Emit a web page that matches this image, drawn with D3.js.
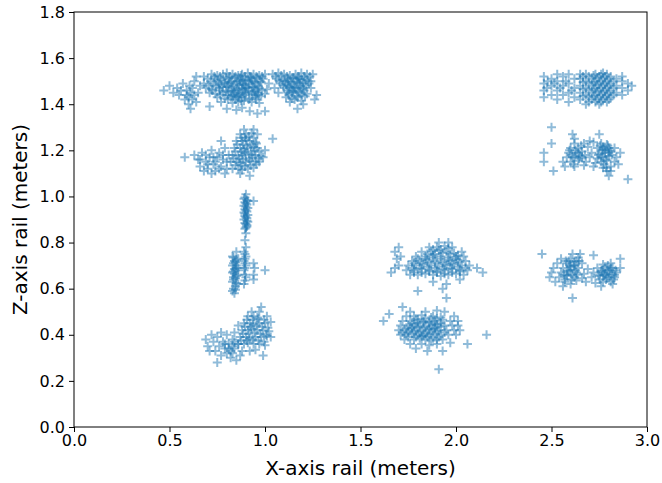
<!DOCTYPE html>
<html lang="en">
<head>
    <meta charset="UTF-8">
    <title>Rail positions</title>
    <script src="https://d3js.org/d3.v7.min.js"></script>
    <style>
        body { margin: 0; background: #fff; }
        text { font-family: "DejaVu Sans", sans-serif; fill: #000; }
        .tick text { font-size: 16px; }
        .axis path, .axis line { stroke: #000; }
        .mark { fill: none; stroke: #1f77b4; stroke-opacity: 0.5; stroke-width: 2; }
    </style>
</head>
<body>
    <svg width="662" height="483"></svg>
    <script>
        // points, one array per group (x, z in meters)
        var topLeft = [
            [0.47,1.46],[0.50,1.48],[0.52,1.45],[0.54,1.47],[0.55,1.44],[0.57,1.49],[0.58,1.42],[0.59,1.46],[0.61,1.38],
            [0.60,1.43],[0.62,1.47],[0.63,1.44],[0.64,1.41],[0.65,1.45],[0.63,1.50],[0.66,1.48],[0.60,1.40],[0.56,1.46],
            [0.61,1.45],[0.62,1.42],[0.605,1.48],[0.59,1.44],
            [0.72,1.53],[0.75,1.525],[0.78,1.53],[0.80,1.535],[0.83,1.53],[0.86,1.525],[0.88,1.53],[0.91,1.535],[0.94,1.53],
            [0.97,1.525],[1.00,1.53],[1.04,1.53],[1.07,1.535],[1.10,1.53],[1.13,1.525],[1.16,1.53],[1.19,1.535],[1.22,1.53],[1.25,1.53],
            [0.735,1.52],[0.765,1.52],[0.795,1.515],[0.815,1.52],[0.845,1.52],[0.875,1.525],[0.895,1.52],[0.925,1.515],[0.955,1.52],
            [0.985,1.52],[1.055,1.52],[1.085,1.525],[1.115,1.52],[1.145,1.515],[1.175,1.52],[1.205,1.52],[1.235,1.52],
            [0.70,1.51],[0.74,1.51],[0.77,1.505],[0.81,1.51],[0.84,1.515],[0.87,1.51],[0.90,1.505],[0.93,1.51],[0.96,1.515],
            [0.99,1.51],[1.06,1.51],[1.09,1.505],[1.12,1.51],[1.15,1.515],[1.18,1.51],[1.21,1.51],
            [0.715,1.50],[0.755,1.50],[0.785,1.495],[0.825,1.50],[0.855,1.50],[0.885,1.505],[0.915,1.50],[0.945,1.495],[0.975,1.50],
            [1.075,1.50],[1.105,1.50],[1.135,1.495],[1.165,1.50],[1.195,1.505],[1.225,1.50],
            [0.68,1.49],[0.73,1.49],[0.76,1.485],[0.79,1.49],[0.82,1.495],[0.85,1.49],[0.89,1.485],[0.92,1.49],[0.95,1.49],
            [0.98,1.495],[1.02,1.49],[1.08,1.49],[1.11,1.485],[1.14,1.49],[1.17,1.495],[1.20,1.49],[1.23,1.49],
            [0.705,1.48],[0.745,1.48],[0.775,1.475],[0.805,1.48],[0.835,1.48],[0.865,1.485],[0.895,1.48],[0.935,1.475],[0.965,1.48],
            [1.095,1.48],[1.125,1.48],[1.155,1.475],[1.185,1.48],[1.215,1.48],
            [0.69,1.47],[0.72,1.465],[0.76,1.47],[0.80,1.475],[0.83,1.47],[0.86,1.465],[0.88,1.47],[0.91,1.47],[0.94,1.475],
            [0.97,1.47],[1.01,1.465],[1.05,1.47],[1.10,1.47],[1.13,1.475],[1.16,1.47],[1.19,1.465],[1.24,1.47],
            [0.725,1.46],[0.765,1.46],[0.795,1.455],[0.825,1.46],[0.855,1.46],[0.885,1.465],[0.915,1.46],[0.945,1.455],[0.985,1.46],
            [1.115,1.46],[1.145,1.46],[1.175,1.455],[1.205,1.46],
            [0.71,1.45],[0.74,1.445],[0.78,1.45],[0.81,1.455],[0.84,1.45],[0.87,1.445],[0.90,1.45],[0.93,1.455],[0.96,1.45],
            [1.00,1.445],[1.07,1.45],[1.12,1.45],[1.15,1.455],[1.18,1.45],[1.22,1.445],
            [0.765,1.44],[0.805,1.44],[0.835,1.435],[0.865,1.44],[0.895,1.44],[0.935,1.445],[0.965,1.44],[1.125,1.44],[1.165,1.435],[1.195,1.44],
            [0.75,1.43],[0.79,1.425],[0.82,1.43],[0.85,1.435],[0.88,1.43],[0.92,1.425],[0.95,1.43],[0.98,1.435],
            [1.11,1.43],[1.14,1.425],[1.17,1.43],[1.21,1.435],
            [0.805,1.42],[0.845,1.42],[0.875,1.415],[0.915,1.42],[0.955,1.42],[1.155,1.42],
            [0.81,1.49],[0.84,1.46],[0.87,1.50],[0.90,1.47],[0.93,1.50],[0.96,1.465],[0.83,1.44],[0.89,1.45],[0.95,1.44],
            [0.86,1.43],[0.92,1.52],[0.88,1.49],[1.12,1.50],[1.15,1.47],[1.18,1.49],[1.14,1.45],[1.17,1.51],[1.20,1.47],
            [0.77,1.41],[0.83,1.405],[0.86,1.41],[0.89,1.415],[0.93,1.41],[0.97,1.405],[1.13,1.41],[1.19,1.415],
            [0.71,1.39],[0.80,1.38],[0.85,1.375],[0.88,1.385],[0.92,1.37],[0.96,1.36],[1.00,1.37],[1.17,1.38],
            [1.20,1.40],[1.26,1.42],[1.27,1.44],[1.24,1.50],[0.68,1.52],[0.64,1.52]
        ];

        var upperLeft = [
            [0.58,1.17],[0.63,1.18],[0.65,1.16],[0.66,1.13],[0.67,1.19],[0.69,1.15],[0.70,1.12],[0.71,1.17],[0.72,1.20],
            [0.73,1.14],[0.74,1.11],[0.75,1.17],[0.76,1.19],[0.77,1.13],[0.78,1.16],[0.79,1.21],[0.80,1.12],[0.68,1.11],
            [0.72,1.10],[0.77,1.24],[0.81,1.18],[0.79,1.10],
            [0.70,1.14],[0.74,1.15],[0.76,1.12],[0.78,1.18],[0.73,1.17],[0.80,1.15],[0.66,1.16],[0.69,1.18],
            [0.83,1.12],[0.86,1.12],[0.88,1.115],[0.91,1.12],[0.94,1.125],
            [0.845,1.135],[0.875,1.135],[0.895,1.13],[0.925,1.135],[0.955,1.14],
            [0.82,1.15],[0.85,1.15],[0.87,1.145],[0.90,1.15],[0.92,1.155],[0.95,1.15],[0.97,1.15],
            [0.835,1.165],[0.865,1.165],[0.885,1.16],[0.915,1.165],[0.935,1.17],[0.965,1.165],
            [0.83,1.18],[0.86,1.175],[0.88,1.18],[0.90,1.185],[0.93,1.18],[0.95,1.18],[0.98,1.175],
            [0.845,1.195],[0.875,1.195],[0.895,1.19],[0.925,1.195],[0.945,1.20],[0.97,1.195],
            [0.84,1.21],[0.87,1.21],[0.89,1.205],[0.91,1.21],[0.94,1.215],[0.96,1.21],
            [0.855,1.225],[0.885,1.225],[0.905,1.22],[0.93,1.225],[0.955,1.23],
            [0.85,1.24],[0.88,1.24],[0.90,1.245],[0.92,1.24],[0.95,1.235],
            [0.875,1.255],[0.895,1.255],[0.915,1.26],[0.94,1.255],
            [0.87,1.27],[0.90,1.27],[0.93,1.275],[0.96,1.27],[0.89,1.29],[0.94,1.29],
            [0.99,1.17],[1.00,1.20],[1.04,1.25],[0.92,1.09],[0.87,1.10]
        ];

        var middleStrip = [
            [0.90,1.01],[0.89,0.99],[0.91,0.98],[0.90,0.97],[0.89,0.96],[0.91,0.95],[0.90,0.94],[0.89,0.93],[0.91,0.92],
            [0.90,0.91],[0.89,0.90],[0.91,0.89],[0.90,0.88],[0.895,0.86],[0.905,0.87],[0.90,0.955],[0.895,0.925],
            [0.905,0.905],[0.895,0.995],[0.905,0.985],[0.895,0.975],[0.905,0.965],[0.895,0.945],[0.905,0.935],
            [0.895,0.915],[0.905,0.895],[0.895,0.885],[0.905,0.875],[0.90,0.865],
            [0.94,0.98],[0.90,0.84],[0.895,0.81],[0.90,0.78]
        ];

        var lowerStrip = [
            [0.83,0.59],[0.845,0.61],[0.86,0.62],[0.83,0.63],[0.845,0.645],[0.86,0.66],[0.83,0.67],[0.845,0.68],[0.86,0.69],
            [0.83,0.70],[0.845,0.715],[0.86,0.73],[0.83,0.74],[0.835,0.65],[0.85,0.69],[0.84,0.72],
            [0.835,0.60],[0.85,0.625],[0.835,0.64],[0.85,0.655],[0.835,0.675],[0.85,0.70],[0.835,0.71],[0.85,0.725],
            [0.835,0.735],[0.845,0.595],[0.84,0.665],[0.84,0.685],
            [0.89,0.62],[0.90,0.65],[0.89,0.68],[0.90,0.70],[0.89,0.72],[0.90,0.74],[0.89,0.76],
            [0.895,0.635],[0.895,0.66],[0.895,0.69],[0.895,0.71],[0.895,0.73],[0.895,0.75],
            [0.94,0.64],[0.94,0.66],[0.945,0.69],[0.94,0.71],
            [1.00,0.68],[0.84,0.58],[0.85,0.76]
        ];

        var bottomLeft = [
            [0.69,0.38],[0.70,0.35],[0.72,0.40],[0.73,0.37],[0.74,0.33],[0.75,0.39],[0.76,0.35],[0.77,0.31],[0.78,0.37],
            [0.79,0.34],[0.80,0.40],[0.80,0.32],[0.81,0.36],[0.82,0.30],[0.83,0.38],[0.84,0.34],[0.85,0.29],[0.75,0.28],
            [0.71,0.33],[0.77,0.41],[0.83,0.32],[0.86,0.36],[0.87,0.31],
            [0.81,0.34],[0.79,0.36],[0.83,0.35],[0.82,0.33],[0.84,0.37],
            [0.88,0.33],[0.92,0.33],[0.95,0.335],
            [0.86,0.36],[0.89,0.36],[0.91,0.365],[0.94,0.36],[0.97,0.36],[1.00,0.355],
            [0.875,0.375],[0.905,0.375],[0.935,0.38],[0.965,0.375],[0.995,0.37],
            [0.87,0.39],[0.90,0.39],[0.92,0.385],[0.95,0.39],[0.98,0.39],[1.01,0.395],
            [0.885,0.405],[0.915,0.405],[0.945,0.41],[0.975,0.405],[1.005,0.40],
            [0.88,0.42],[0.91,0.42],[0.93,0.425],[0.96,0.42],[0.99,0.42],[1.02,0.415],
            [0.895,0.435],[0.925,0.435],[0.955,0.44],[0.985,0.435],[1.015,0.43],
            [0.89,0.45],[0.92,0.45],[0.94,0.445],[0.97,0.45],[1.00,0.45],[1.03,0.455],
            [0.905,0.465],[0.935,0.465],[0.965,0.47],[0.995,0.465],
            [0.91,0.48],[0.94,0.48],[0.96,0.475],[1.01,0.48],[0.93,0.50],[0.97,0.50],
            [0.86,0.44],[0.84,0.41],[0.98,0.52],[0.99,0.31],[1.03,0.39]
        ];

        var centerUpper = [
            [1.68,0.76],[1.69,0.73],[1.70,0.70],[1.68,0.69],[1.70,0.78],[1.71,0.74],[1.66,0.67],
            [1.76,0.66],[1.80,0.66],[1.84,0.665],[1.88,0.66],[1.92,0.655],[1.96,0.66],[2.00,0.665],[2.04,0.66],
            [1.78,0.67],[1.82,0.67],[1.86,0.675],[1.90,0.67],[1.94,0.665],[1.98,0.67],[2.02,0.675],
            [1.74,0.68],[1.78,0.68],[1.82,0.685],[1.86,0.68],[1.90,0.675],[1.94,0.68],[1.98,0.685],[2.02,0.68],[2.06,0.68],
            [1.77,0.69],[1.81,0.69],[1.85,0.695],[1.89,0.69],[1.93,0.685],[1.97,0.69],[2.01,0.695],[2.05,0.69],
            [1.75,0.70],[1.79,0.70],[1.83,0.705],[1.87,0.70],[1.91,0.695],[1.95,0.70],[1.99,0.705],[2.03,0.70],[2.07,0.70],
            [1.78,0.71],[1.82,0.71],[1.86,0.715],[1.90,0.71],[1.94,0.705],[1.98,0.71],[2.02,0.715],
            [1.77,0.72],[1.81,0.72],[1.85,0.725],[1.89,0.72],[1.93,0.715],[1.97,0.72],[2.01,0.725],[2.05,0.72],
            [1.80,0.73],[1.84,0.73],[1.88,0.735],[1.92,0.73],[1.96,0.725],[2.00,0.73],
            [1.79,0.74],[1.84,0.74],[1.88,0.745],[1.92,0.74],[1.96,0.735],[2.00,0.74],[2.04,0.74],
            [1.85,0.75],[1.89,0.75],[1.93,0.755],[1.97,0.75],[2.01,0.745],
            [1.82,0.76],[1.87,0.76],[1.91,0.765],[1.95,0.76],[1.99,0.755],[2.03,0.76],
            [1.88,0.77],[1.92,0.77],[1.96,0.775],
            [1.86,0.78],[1.90,0.78],[1.94,0.785],[1.98,0.78],[1.91,0.80],[1.96,0.80],
            [2.11,0.69],[2.14,0.67],[1.80,0.59],[1.88,0.63],[1.95,0.62],[2.02,0.64],[1.93,0.60]
        ];

        var centerLower = [
            [1.76,0.36],[1.82,0.36],[1.86,0.355],[1.90,0.36],[1.97,0.365],
            [1.73,0.38],[1.78,0.38],[1.81,0.385],[1.84,0.38],[1.87,0.375],[1.90,0.38],[1.93,0.38],
            [1.75,0.39],[1.79,0.39],[1.82,0.395],[1.85,0.39],[1.88,0.385],[1.91,0.39],
            [1.71,0.40],[1.74,0.40],[1.77,0.405],[1.80,0.40],[1.83,0.395],[1.86,0.40],[1.89,0.405],[1.92,0.40],[1.96,0.40],[2.00,0.40],
            [1.72,0.41],[1.75,0.41],[1.78,0.415],[1.81,0.41],[1.84,0.405],[1.87,0.41],[1.90,0.415],[1.94,0.41],
            [1.70,0.42],[1.73,0.42],[1.76,0.425],[1.79,0.42],[1.82,0.415],[1.85,0.42],[1.88,0.425],[1.91,0.42],[1.95,0.42],[1.99,0.42],[2.02,0.42],
            [1.74,0.43],[1.77,0.43],[1.80,0.435],[1.83,0.43],[1.86,0.425],[1.89,0.43],[1.92,0.435],
            [1.71,0.44],[1.75,0.44],[1.78,0.445],[1.81,0.44],[1.84,0.435],[1.87,0.44],[1.90,0.445],[1.94,0.44],[1.98,0.44],[2.01,0.44],
            [1.77,0.45],[1.80,0.45],[1.83,0.455],[1.86,0.45],[1.89,0.445],[1.92,0.45],
            [1.72,0.46],[1.76,0.46],[1.80,0.465],[1.83,0.46],[1.86,0.455],[1.89,0.46],[1.93,0.465],[1.97,0.46],[2.01,0.46],
            [1.79,0.47],[1.84,0.47],[1.87,0.475],[1.90,0.47],
            [1.74,0.48],[1.78,0.48],[1.82,0.485],[1.88,0.48],[1.92,0.475],[1.99,0.48],
            [1.76,0.50],[1.84,0.50],[1.90,0.505],[1.94,0.50],
            [1.62,0.46],[1.65,0.49],[1.72,0.52],[1.95,0.56],[2.16,0.40],[2.06,0.36],[1.91,0.25],[1.85,0.33],[1.79,0.34],[1.93,0.33]
        ];

        var topRight = [
            [2.46,1.43],[2.46,1.46],[2.46,1.49],[2.46,1.52],[2.50,1.44],[2.50,1.48],[2.50,1.51],
            [2.53,1.42],[2.53,1.46],[2.53,1.50],[2.53,1.53],[2.56,1.44],[2.56,1.48],[2.56,1.52],
            [2.59,1.41],[2.59,1.45],[2.59,1.49],[2.59,1.53],[2.62,1.43],[2.62,1.47],[2.62,1.51],
            [2.475,1.47],[2.515,1.49],[2.545,1.47],[2.575,1.50],[2.605,1.46],[2.48,1.50],
            [2.65,1.42],[2.65,1.45],[2.65,1.48],[2.65,1.51],[2.65,1.53],
            [2.665,1.435],[2.665,1.465],[2.665,1.495],[2.665,1.52],
            [2.68,1.40],[2.68,1.44],[2.68,1.47],[2.68,1.50],[2.68,1.53],
            [2.695,1.41],[2.695,1.43],[2.695,1.46],[2.695,1.49],[2.695,1.52],
            [2.71,1.42],[2.71,1.45],[2.71,1.48],[2.71,1.51],
            [2.72,1.435],[2.72,1.465],[2.72,1.495],[2.72,1.525],
            [2.73,1.41],[2.73,1.44],[2.73,1.47],[2.73,1.50],[2.73,1.53],
            [2.74,1.42],[2.74,1.455],[2.74,1.485],[2.74,1.515],
            [2.75,1.40],[2.75,1.43],[2.75,1.46],[2.75,1.49],[2.75,1.52],
            [2.76,1.41],[2.76,1.44],[2.76,1.47],[2.76,1.50],[2.76,1.53],
            [2.77,1.42],[2.77,1.45],[2.77,1.48],[2.77,1.51],[2.77,1.535],
            [2.78,1.43],[2.78,1.46],[2.78,1.49],[2.78,1.52],
            [2.79,1.41],[2.79,1.44],[2.79,1.47],[2.79,1.50],[2.79,1.53],
            [2.80,1.42],[2.80,1.45],[2.80,1.48],[2.80,1.51],
            [2.81,1.43],[2.81,1.46],[2.81,1.49],[2.81,1.52],
            [2.825,1.44],[2.825,1.47],[2.825,1.50],
            [2.84,1.45],[2.84,1.48],[2.84,1.51],
            [2.87,1.44],[2.87,1.47],[2.87,1.50],[2.87,1.52],
            [2.90,1.46],[2.90,1.49],[2.92,1.48]
        ];

        var upperRight = [
            [2.50,1.30],[2.50,1.23],[2.46,1.19],[2.46,1.15],[2.51,1.11],[2.90,1.075],[2.75,1.27],[2.61,1.27],[2.62,1.25],
            [2.57,1.13],[2.62,1.13],[2.67,1.135],[2.72,1.13],[2.77,1.125],[2.81,1.13],
            [2.56,1.15],[2.60,1.15],[2.64,1.155],[2.68,1.15],[2.73,1.145],[2.76,1.15],[2.79,1.155],[2.83,1.15],
            [2.58,1.17],[2.61,1.17],[2.65,1.175],[2.70,1.17],[2.74,1.165],[2.77,1.17],[2.80,1.175],[2.84,1.17],
            [2.59,1.19],[2.63,1.19],[2.66,1.195],[2.71,1.19],[2.75,1.185],[2.78,1.19],[2.81,1.195],[2.86,1.19],
            [2.60,1.21],[2.64,1.21],[2.69,1.215],[2.74,1.21],[2.77,1.205],[2.80,1.21],[2.83,1.21],
            [2.62,1.23],[2.67,1.23],[2.72,1.235],[2.76,1.23],[2.79,1.225],
            [2.605,1.18],[2.625,1.20],[2.645,1.165],[2.655,1.22],[2.675,1.18],[2.615,1.14],[2.595,1.20],
            [2.745,1.18],[2.765,1.20],[2.785,1.16],[2.795,1.22],[2.815,1.18],[2.775,1.14],[2.755,1.22],[2.805,1.20],[2.785,1.125],
            [2.76,1.17],[2.78,1.20],[2.80,1.19],[2.77,1.215],[2.62,1.17],[2.64,1.19],[2.66,1.17],
            [2.79,1.11],[2.81,1.11],[2.80,1.09],[2.85,1.14],[2.70,1.24]
        ];

        var lowerRight = [
            [2.45,0.75],[2.61,0.56],
            [2.52,0.63],[2.57,0.63],[2.63,0.635],[2.68,0.63],[2.73,0.625],[2.77,0.63],[2.81,0.63],
            [2.49,0.65],[2.54,0.65],[2.58,0.655],[2.62,0.65],[2.66,0.645],[2.71,0.65],[2.75,0.655],[2.79,0.65],[2.83,0.65],
            [2.50,0.67],[2.55,0.67],[2.59,0.675],[2.63,0.67],[2.67,0.665],[2.72,0.67],[2.76,0.675],[2.80,0.67],[2.84,0.67],
            [2.51,0.69],[2.56,0.69],[2.60,0.695],[2.64,0.69],[2.69,0.685],[2.74,0.69],[2.78,0.695],[2.82,0.69],[2.86,0.69],
            [2.53,0.71],[2.58,0.71],[2.62,0.715],[2.66,0.71],[2.77,0.705],[2.81,0.71],
            [2.55,0.73],[2.60,0.73],[2.64,0.735],[2.86,0.73],
            [2.61,0.75],[2.65,0.75],[2.72,0.745],
            [2.565,0.66],[2.585,0.68],[2.605,0.64],[2.615,0.70],[2.635,0.66],[2.575,0.72],[2.595,0.70],[2.625,0.68],[2.645,0.72],[2.57,0.64],
            [2.745,0.66],[2.765,0.68],[2.785,0.64],[2.795,0.70],[2.815,0.66],[2.835,0.68],[2.775,0.66],[2.805,0.68],[2.825,0.64],[2.755,0.64],
            [2.58,0.66],[2.60,0.68],[2.62,0.70],[2.59,0.72],[2.61,0.66],[2.63,0.72],[2.60,0.62],
            [2.78,0.66],[2.80,0.65],[2.79,0.68],[2.81,0.69],[2.77,0.67],[2.83,0.66],
            [2.56,0.61],[2.76,0.61],[2.82,0.62]
        ];

        var xTicks = [0.0, 0.5, 1.0, 1.5, 2.0, 2.5, 3.0];
        var yTicks = [0.0, 0.2, 0.4, 0.6, 0.8, 1.0, 1.2, 1.4, 1.6, 1.8];

        var data = [].concat(topLeft, upperLeft, middleStrip, lowerStrip, bottomLeft,
                             centerUpper, centerLower, topRight, upperRight, lowerRight);

        var svg = d3.select("svg"),
            margin = {top: 12, right: 15, bottom: 56, left: 74},
            width = +svg.attr("width") - margin.left - margin.right,
            height = +svg.attr("height") - margin.top - margin.bottom;

        var x = d3.scaleLinear().domain([0, 3]).range([0, width]),
            y = d3.scaleLinear().domain([0, 1.8]).range([height, 0]);

        var g = svg.append("g")
            .attr("transform", "translate(" + margin.left + "," + margin.top + ")");

        // markers
        g.selectAll(".mark")
            .data(data)
            .enter().append("path")
            .attr("class", "mark")
            .attr("transform", function (d) {
                return "translate(" + x(d[0]) + "," + y(d[1]) + ")";
            })
            .attr("d", "M-4.5,0H4.5M0,-4.5V4.5");

        g.append("g")
            .attr("class", "axis axis--x")
            .attr("transform", "translate(0," + height + ")")
            .call(d3.axisBottom(x).tickValues(xTicks).tickFormat(d3.format(".1f")).tickSize(5).tickPadding(3))
            .call(function (a) { a.select(".domain").remove(); });

        g.append("g")
            .attr("class", "axis axis--y")
            .call(d3.axisLeft(y).tickValues(yTicks).tickFormat(d3.format(".1f")).tickSize(5).tickPadding(4))
            .call(function (a) { a.select(".domain").remove(); });

        // frame
        g.append("rect")
            .attr("width", width)
            .attr("height", height)
            .attr("fill", "none")
            .attr("stroke", "#000")
            .attr("stroke-width", 1);

        svg.append("text")
            .attr("x", margin.left + width / 2)
            .attr("y", 475)
            .attr("text-anchor", "middle")
            .style("font-size", "20px")
            .text("X-axis rail (meters)");

        svg.append("text")
            .attr("transform", "translate(27," + (margin.top + height / 2) + ") rotate(-90)")
            .attr("text-anchor", "middle")
            .style("font-size", "20px")
            .text("Z-axis rail (meters)");
    </script>
</body>
</html>
